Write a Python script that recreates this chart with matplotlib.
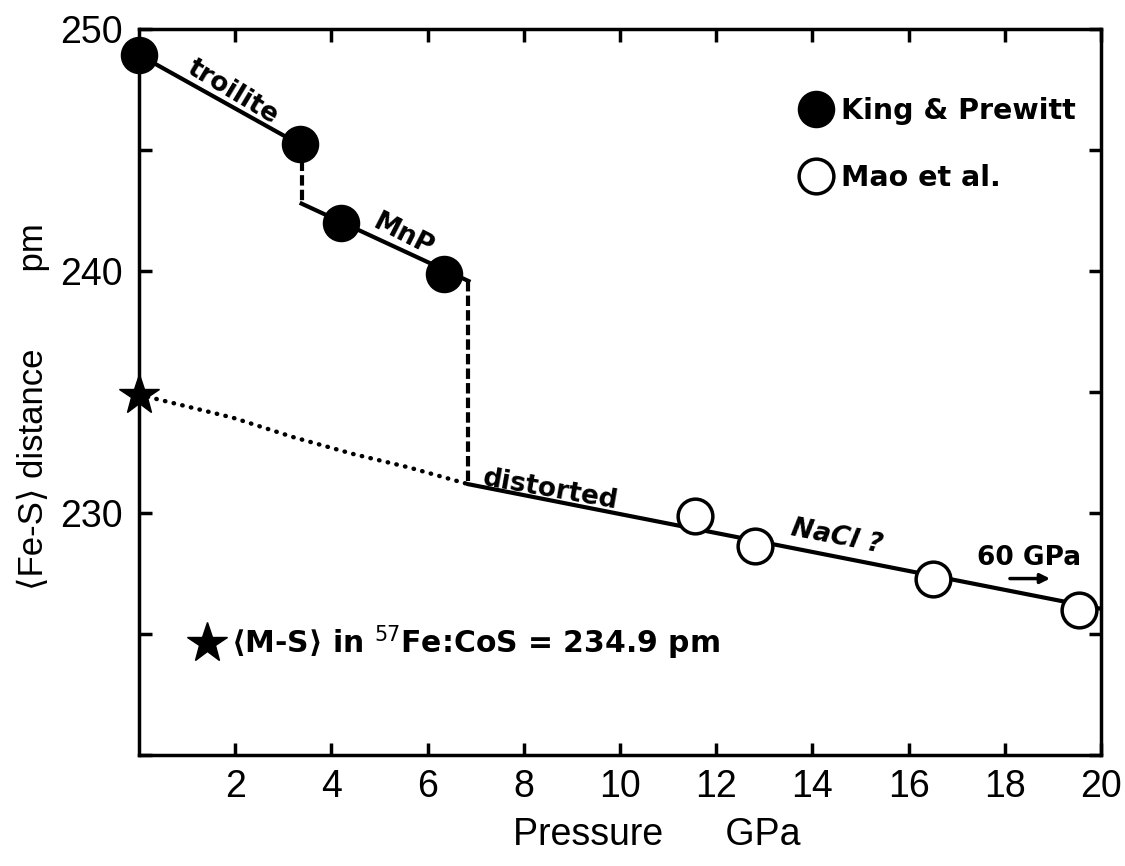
import matplotlib
matplotlib.use("Agg")
import matplotlib.pyplot as plt
from matplotlib.lines import Line2D

# King & Prewitt (filled) and Mao et al. (open) points
kp_p = [0.0, 3.35, 4.2, 6.35]
kp_d = [248.95, 245.25, 242.0, 239.9]
mao_p = [11.55, 12.8, 16.5, 19.55]
mao_d = [229.9, 228.65, 227.3, 226.0]

# drawn curves
troilite_p = [0.0, 3.38]
troilite_d = [248.95, 245.2]
jump1_p = [3.38, 3.38]
jump1_d = [245.2, 242.8]
mnp_p = [3.38, 6.85]
mnp_d = [242.8, 239.6]
jump2_p = [6.85, 6.85]
jump2_d = [239.6, 231.2]
dist_p = [6.85, 20.0]
dist_d = [231.2, 226.05]
dot_p = [0.0, 1.95, 3.2, 4.45, 5.6, 6.85]
dot_d = [234.9, 233.95, 233.15, 232.45, 231.9, 231.2]
star_p = [0.0]
star_d = [234.9]

xticks = [2, 4, 6, 8, 10, 12, 14, 16, 18, 20]
yticks = [220, 225, 230, 235, 240, 245, 250]
ylabels = ["", "", "230", "", "240", "", "250"]

fam = ["Liberation Sans", "DejaVu Sans"]

fig = plt.figure(figsize=(11.25, 8.66), dpi=100)
ax = fig.add_axes([0.1236, 0.128, 0.855, 0.838])

lw = 3.0
ax.plot(troilite_p, troilite_d, c="black", lw=lw)
ax.plot(jump1_p, jump1_d, c="black", lw=lw, ls=(0, (2.5, 1)))
ax.plot(mnp_p, mnp_d, c="black", lw=lw)
ax.plot(jump2_p, jump2_d, c="black", lw=lw, ls=(0, (2.5, 1)))
ax.plot(dist_p, dist_d, c="black", lw=lw)
ax.plot(dot_p, dot_d, c="black", lw=3.2, ls=(0, (0.1, 1.9)), dash_capstyle="round")

kp, = ax.plot(kp_p, kp_d, ls="none", marker="o", ms=26, mfc="black", mec="black",
              label="King & Prewitt", clip_on=False, zorder=5)
mao, = ax.plot(mao_p, mao_d, ls="none", marker="o", ms=25, mfc="white", mec="black",
               mew=2.5, label="Mao et al.", clip_on=False, zorder=5)
star, = ax.plot(star_p, star_d, ls="none", marker="*", ms=30, c="black",
                clip_on=False, zorder=5, label="\u27e8M-S\u27e9 in $^{57}$Fe:CoS = 234.9 pm")

ax.set_xlim(0, 20)
ax.set_ylim(220, 250)
ax.set_xticks(xticks)
ax.set_yticks(yticks)
ax.set_yticklabels(ylabels)
for s in ax.spines.values():
    s.set_linewidth(2.5)
ax.tick_params(direction="in", length=9, width=2.5, top=True, right=True)
ax.tick_params(axis="x", pad=10, labelsize=27)
ax.tick_params(axis="y", pad=12, labelsize=27)
for t in ax.get_xticklabels() + ax.get_yticklabels():
    t.set_fontfamily(fam)

ax.set_xlabel("Pressure      GPa", family=fam, fontsize=27)
ax.xaxis.set_label_coords(0.538, -0.085)
ax.set_ylabel("\u27e8Fe-S\u27e9 distance        pm", family=fam, fontsize=25)
ax.yaxis.set_label_coords(-0.093, 0.48)

bold = dict(fontsize=19, fontweight="bold", family="DejaVu Sans", ha="center", va="center")
ax.text(1.95, 247.4, "troilite", rotation=-31, **bold)
ax.text(5.5, 241.5, "MnP", rotation=-27, **bold)
ax.text(8.55, 230.95, "distorted", rotation=-10, **bold)
ax.text(14.5, 229.0, "NaCl ?", rotation=-11, style="italic", **bold)
ax.text(18.5, 228.15, "60 GPa", **bold)
ax.annotate("", xy=(19.0, 227.3), xytext=(18.05, 227.3),
            arrowprops=dict(arrowstyle="-|>", color="black", lw=2.5, mutation_scale=14))

leg = ax.legend(handles=[kp, mao], loc="upper left", bbox_to_anchor=(0.665, 0.942),
                frameon=False, handlelength=0.8, handletextpad=0.5, labelspacing=1.35,
                prop=dict(family="DejaVu Sans", weight="bold", size=20.5))
ax.add_artist(leg)
h2 = Line2D([], [], ls="none", marker="*", ms=30, c="black")
ax.legend(handles=[h2], labels=[star.get_label()], loc="upper left",
          bbox_to_anchor=(0.03, 0.218), frameon=False, handlelength=0.8, handletextpad=0.4,
          prop=dict(family="DejaVu Sans", weight="bold", size=21.5))

fig.savefig("out.png", dpi=100)
